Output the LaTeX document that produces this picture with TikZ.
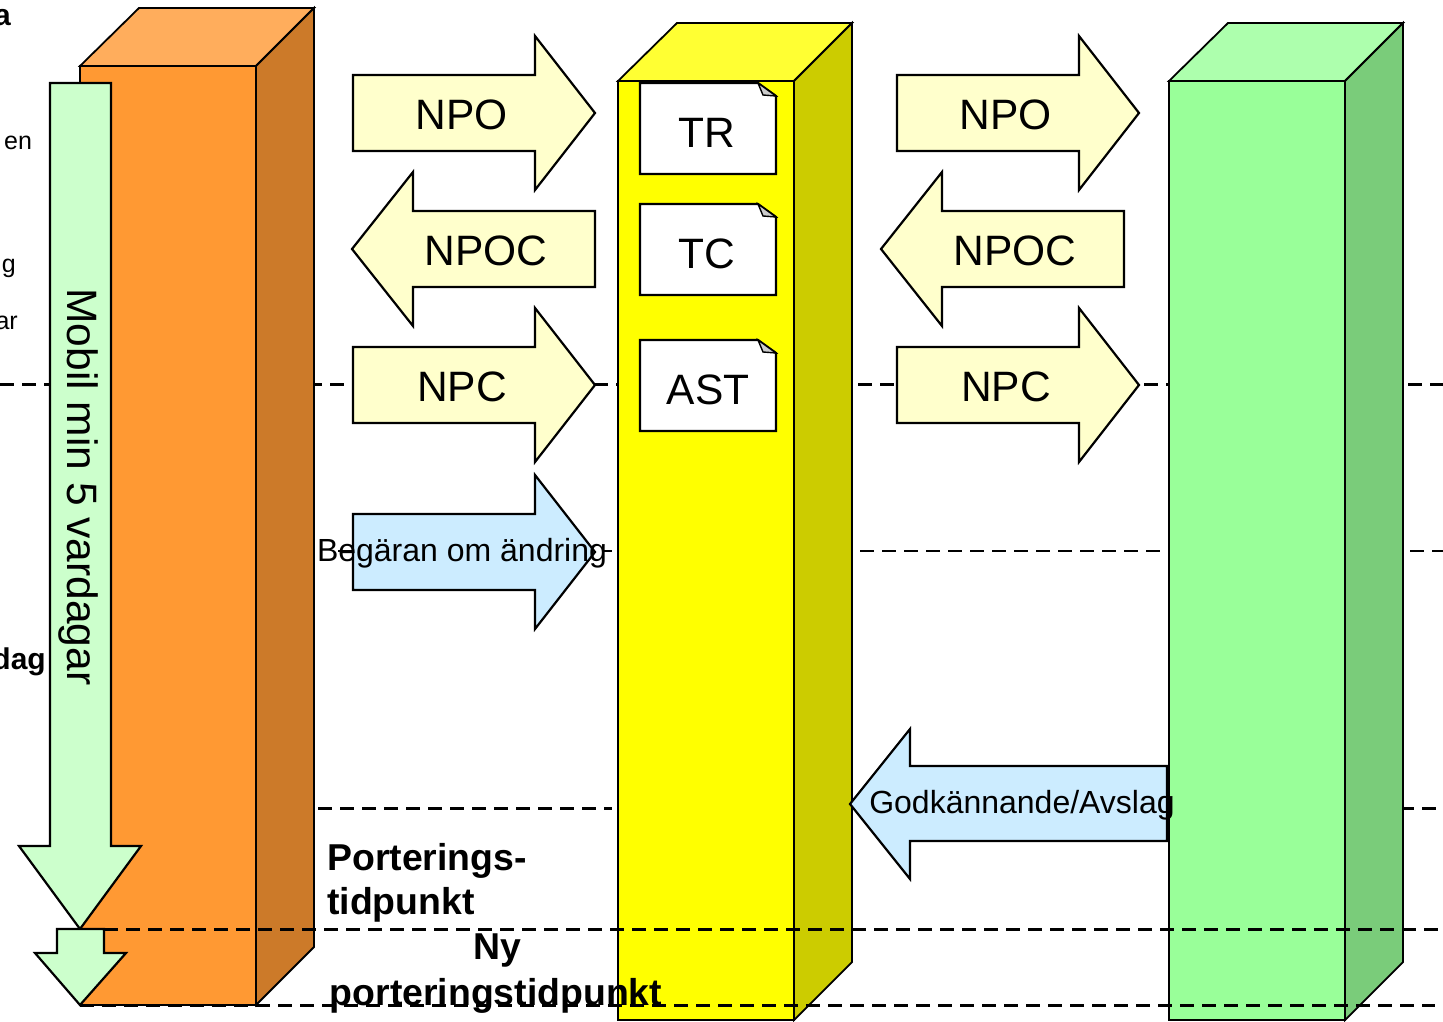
\documentclass[tikz,border=0pt]{standalone}
\usepackage{fontspec}
\setmainfont{Liberation Sans}
\definecolor{orF}{HTML}{FF9933}
\definecolor{orT}{HTML}{FFAD5C}
\definecolor{orS}{HTML}{CC7A29}
\definecolor{yeF}{HTML}{FFFF00}
\definecolor{yeT}{HTML}{FFFF33}
\definecolor{yeS}{HTML}{CCCC00}
\definecolor{grF}{HTML}{99FF99}
\definecolor{grT}{HTML}{ADFFAD}
\definecolor{grS}{HTML}{7ACC7A}
\definecolor{paleY}{HTML}{FFFFCC}
\definecolor{paleB}{HTML}{CCECFF}
\definecolor{paleG}{HTML}{CCFFCC}
\tikzset{
  x=1pt,y=-1pt,
  edge/.style={draw=black,line width=2.2pt,line join=miter},
  thinedge/.style={draw=black,line width=1.8pt,line join=miter},
  dline/.style={draw=black,line width=2.4pt,dash pattern=on 14pt off 8pt},
  lab/.style={inner sep=0pt,font=\fontsize{42.5}{42.5}\selectfont},
  callout/.style={inner sep=0pt,font=\fontsize{32}{32}\selectfont},
  frag/.style={inner sep=0pt,font=\fontsize{25}{25}\selectfont},
  heading/.style={inner sep=0pt,font=\bfseries\fontsize{37.4}{37.4}\selectfont},
}
\newcommand{\rarrow}[3]{\path[edge,fill=#3] (#1,#2-38) -- (#1+182,#2-38) -- (#1+182,#2-77) -- (#1+242,#2) -- (#1+182,#2+77) -- (#1+182,#2+38) -- (#1,#2+38) -- cycle;}
\newcommand{\larrow}[3]{\path[edge,fill=#3] (#1,#2-38) -- (#1-182,#2-38) -- (#1-182,#2-77) -- (#1-243,#2) -- (#1-182,#2+77) -- (#1-182,#2+38) -- (#1,#2+38) -- cycle;}
\newcommand{\notebox}[4]{\path[edge,fill=white] (#1,#2) -- (#1+#3-18,#2) -- (#1+#3,#2+13) -- (#1+#3,#2+#4) -- (#1,#2+#4) -- cycle;
 \path[draw=black,line width=1.4pt,fill=black!20] (#1+#3-18,#2) -- (#1+#3-13,#2+12) -- (#1+#3,#2+13) -- cycle;}
\newcommand{\pillar}[6]{
 \path[thinedge,fill=#4] (#1,#2) rectangle (#1+176,#3);
 \path[thinedge,fill=#5] (#1,#2) -- (#1+59,#2-58) -- (#1+234,#2-58) -- (#1+176,#2) -- cycle;
 \path[thinedge,fill=#6] (#1+176,#2) -- (#1+234,#2-58) -- (#1+234,#3-58) -- (#1+176,#3) -- cycle;}
\begin{document}
\begin{tikzpicture}
\useasboundingbox (0,0) rectangle (1443,1021);
\fill[white] (0,0) rectangle (1443,1021);
% dashed rules behind
\coordinate (la) at (0,384.5);   \coordinate (lb) at (1443,384.5);
\coordinate (ma) at (338,551);   \coordinate (mb) at (612,551);
\coordinate (mc) at (860,551);   \coordinate (md) at (1443,551);
\coordinate (na) at (318,808.5); \coordinate (nb) at (612,808.5);
\coordinate (nc) at (1400,808.5);\coordinate (nd) at (1443,808.5);
\draw[dline] (la) -- (lb);
\draw[dline] (ma) -- (mb);
\draw[dline] (mc) -- (md);
\draw[dline] (na) -- (nb);
\draw[dline] (nc) -- (nd);
% left fragments
\node[inner sep=0pt,anchor=base east,font=\bfseries\fontsize{30}{30}\selectfont] (fa) at (11,25) {a};
\node[frag,anchor=base west] (fen) at (4,149) {en};
\node[frag,anchor=base east] (fg) at (16,272) {g};
\node[frag,anchor=base east] (far) at (18,329) {ar};
\node[inner sep=0pt,anchor=base east,font=\bfseries\fontsize{30}{30}\selectfont] (fdag) at (46,669) {dag};
% pillars
\pillar{80}{66}{1005}{orF}{orT}{orS}
\pillar{618}{81}{1020}{yeF}{yeT}{yeS}
\pillar{1169}{81}{1020}{grF}{grT}{grS}
% row arrows
\rarrow{353}{113}{paleY}
\rarrow{897}{113}{paleY}
\larrow{595}{249}{paleY}
\larrow{1124}{249}{paleY}
\rarrow{353}{385}{paleY}
\rarrow{897}{385}{paleY}
\rarrow{353}{552}{paleB}
\path[edge,fill=paleB] (1167,766) -- (910,766) -- (910,729) -- (850,804) -- (910,879) -- (910,841) -- (1167,841) -- cycle;
\node[lab] (npo1) at (462,115) {NPO};
\node[lab] (npo2) at (1006,115) {NPO};
\node[lab] (npoc1) at (486,251) {NPOC};
\node[lab] (npoc2) at (1015,251) {NPOC};
\node[lab] (npc1) at (462,387) {NPC};
\node[lab] (npc2) at (1006,387) {NPC};
\node[callout] (beg) at (462,553) {Begäran om ändring};
\node[callout] (god) at (1022,805) {Godkännande/Avslag};
% documents
\notebox{640}{83}{136}{91}
\notebox{640}{204}{136}{91}
\notebox{640}{340}{136}{91}
\node[lab] (tr) at (707,133) {TR};
\node[lab] (tc) at (707,254) {TC};
\node[lab] (ast) at (708,390) {AST};
% green timeline arrows
\path[edge,fill=paleG] (50,83) -- (111,83) -- (111,846) -- (141,846) -- (80,929) -- (19,846) -- (50,846) -- cycle;
\path[edge,fill=paleG] (57,929) -- (104,929) -- (104,953) -- (126,953) -- (80,1005) -- (35,953) -- (57,953) -- cycle;
\node[inner sep=0pt,rotate=-90,font=\fontsize{42.5}{42.5}\selectfont] (mob) at (78,487) {Mobil min 5 vardagar};
% front rules
\coordinate (pa) at (104,929.5); \coordinate (pb) at (1443,929.5);
\coordinate (qa) at (80,1005.5); \coordinate (qb) at (1435,1005.5);
\draw[dline] (pa) -- (pb);
\draw[dline] (qa) -- (qb);
% bold labels
\node[heading,anchor=base west] (port1) at (327,870) {Porterings-};
\node[heading,anchor=base west] (port2) at (327,914) {tidpunkt};
\node[heading,anchor=base] (ny1) at (497,959) {Ny};
\node[heading,anchor=base] (ny2) at (496,1005) {porteringstidpunkt};
\end{tikzpicture}
\end{document}
